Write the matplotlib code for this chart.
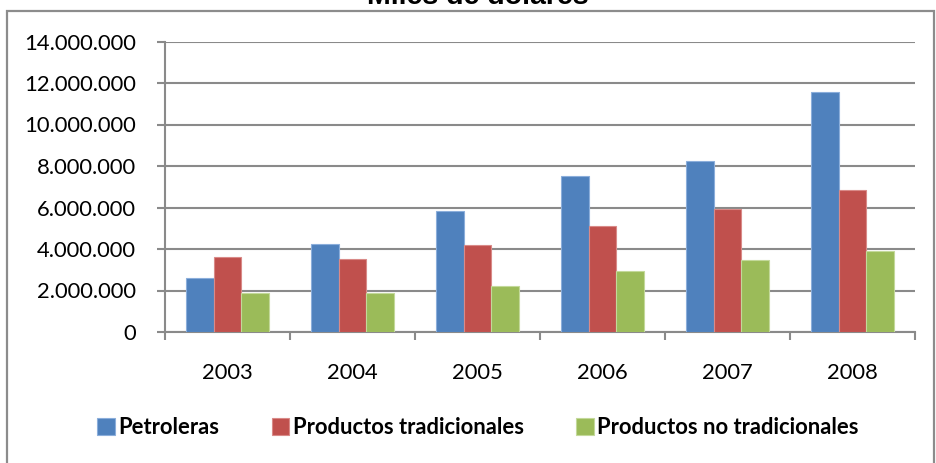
import numpy as np
import matplotlib
matplotlib.use("Agg")
import matplotlib.pyplot as plt
from matplotlib.ticker import FuncFormatter, FixedLocator
from matplotlib.patches import Rectangle

# datos (miles de dólares)
years = ["2003", "2004", "2005", "2006", "2007", "2008"]
petroleras = [2600000, 4230000, 5810000, 7540000, 8250000, 11590000]
tradicionales = [3620000, 3520000, 4180000, 5090000, 5930000, 6850000]
no_tradicionales = [1870000, 1870000, 2240000, 2960000, 3480000, 3910000]
series_names = ["Petroleras", "Productos tradicionales", "Productos no tradicionales"]

colors = ["#4F81BD", "#C0504D", "#9BBB59"]
edges = ["#8BAEDB", "#D98A88", "#C3D99A"]
grid_c = "#8A8A8A"

plt.rcParams['font.family'] = ['Lato', 'DejaVu Sans']

W, H = 936, 463
fig = plt.figure(figsize=(W / 100, H / 100), dpi=100)

# marco del gráfico
fig.patches.append(Rectangle((7 / W, -0.1), (934 - 7) / W, 1.1 - 11 / H,
                             transform=fig.transFigure, fill=False,
                             edgecolor="#8C8C8C", linewidth=1.6))

# título (cortado arriba, como en la imagen original)
fig.text(478 / W, 1 - 3.5 / H, "Miles de dólares", ha="center", va="baseline",
         fontsize=20.5, fontweight="bold", family="Liberation Sans")

ax = fig.add_axes([165 / W, 1 - 332 / H, 750 / W, (332 - 41.5) / H])

x = np.arange(len(years))
bw = 1 / 4.5
for i, vals in enumerate([petroleras, tradicionales, no_tradicionales]):
    ax.bar(x + (i - 1) * bw, vals, bw, color=colors[i], edgecolor=edges[i],
           linewidth=0.8, label=series_names[i], zorder=3)

ax.set_xlim(-0.5, len(years) - 0.5)
ax.set_ylim(0, 14000000)
ax.set_yticks(np.arange(0, 14000001, 2000000))
ax.yaxis.set_major_formatter(FuncFormatter(lambda v, p: f"{int(v):,}".replace(",", ".")))
ax.yaxis.grid(True, color=grid_c, linewidth=1.5, zorder=0)

ax.set_xticks(x)
ax.set_xticklabels(years)
ax.xaxis.set_minor_locator(FixedLocator(np.arange(-0.5, len(years), 1.0)))
ax.tick_params(axis="x", which="major", length=0, pad=22, labelsize=15.8)
ax.tick_params(axis="x", which="minor", length=6, width=1.5, color=grid_c)
ax.tick_params(axis="y", length=6, width=1.5, color=grid_c, pad=15, labelsize=15.8)

for s in ["top", "right"]:
    ax.spines[s].set_visible(False)
for s in ["left", "bottom"]:
    ax.spines[s].set_color(grid_c)
    ax.spines[s].set_linewidth(1.5)

leg = fig.legend(loc="center", bbox_to_anchor=(478 / W, 1 - 428 / H), ncol=3,
                 frameon=False, handlelength=0.8, handleheight=0.8,
                 handletextpad=0.15, columnspacing=2.4,
                 prop={"size": 15.8, "weight": "bold"})

fig.savefig("out.png", dpi=100)
